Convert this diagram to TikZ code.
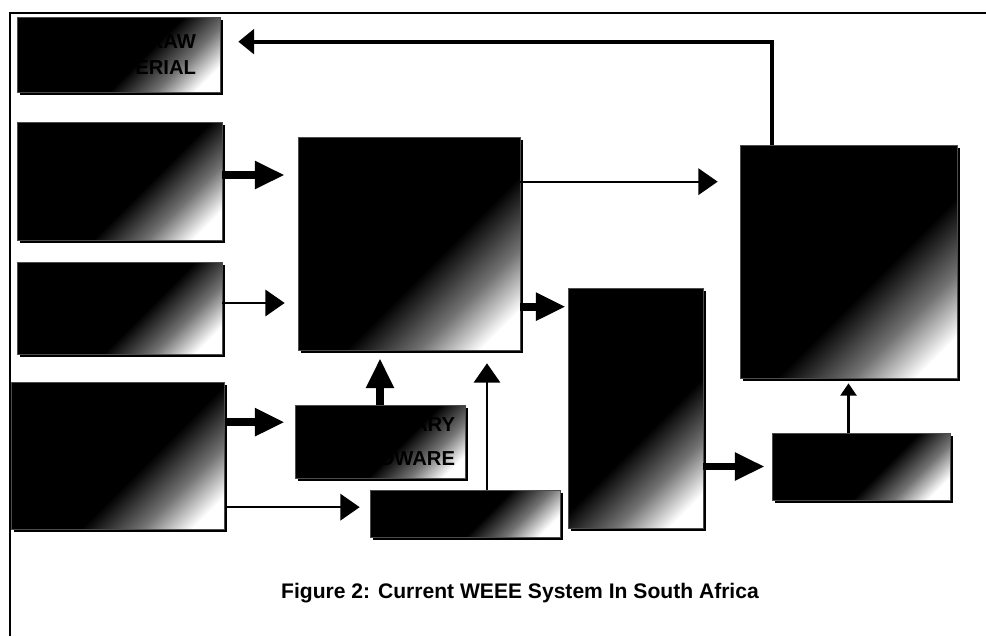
\documentclass[tikz,border=0pt]{standalone}
\usepackage{fontspec}
\setmainfont{Liberation Sans}
\usetikzlibrary{arrows.meta}
\usetikzlibrary{calc}
\usetikzlibrary{shadows}
\pgfdeclarehorizontalshading{boxfade}{100bp}{color(0bp)=(black); color(57bp)=(black); color(69bp)=(black!55); color(79bp)=(white); color(100bp)=(white)}

\begin{document}
\begin{tikzpicture}[x=0.02cm, y=-0.02cm,
  wbox/.style={rectangle, inner sep=0pt, draw=black!70, line width=.4pt, shade, shading=boxfade, shading angle=-45, general shadow={fill=black, shadow xshift=1.5pt, shadow yshift=-1.5pt}},
  thickarrow/.style={line width=4.5pt, -{Triangle[length=17pt,width=15pt]}},
  thinarrow/.style={line width=1.3pt, -{Triangle[length=11pt,width=15pt]}},
  toparrow/.style={line width=2.2pt, -{Triangle[length=9pt,width=14pt]}},
  midarrow/.style={line width=1.8pt, -{Triangle[length=7pt,width=9pt]}}]
\useasboundingbox (0,0) rectangle (986,636);
\draw[line width=.8pt] (10,636) -- (10,13) -- (986,13);

\node[wbox, minimum width=4.06cm, minimum height=1.5cm, text width=3.1cm, align=right, font=\bfseries\fontsize{11.5}{15}\selectfont] (b1) at (118.5,54.5) {RAW\\MATERIAL};
\node[wbox, minimum width=4.1cm, minimum height=2.36cm] (b2) at (119.5,181) {};
\node[wbox, minimum width=4.1cm, minimum height=1.84cm] (b3) at (119.5,308) {};
\node[wbox, minimum width=4.26cm, minimum height=2.94cm] (b4) at (118,456) {};
\node[wbox, minimum width=3.4cm, minimum height=1.46cm, text width=3.0cm, align=right, font=\bfseries\fontsize{11.5}{19}\selectfont] (b5) at (380,441.5) {SECONDARY\\HARDWARE};
\node[wbox, minimum width=3.8cm, minimum height=0.94cm] (b6) at (465,513.5) {};
\node[wbox, minimum width=4.44cm, minimum height=4.26cm] (b7) at (409,243.5) {};
\node[wbox, minimum width=2.7cm, minimum height=4.8cm] (b8) at (635.5,408) {};
\node[wbox, minimum width=4.34cm, minimum height=4.66cm] (b9) at (848.5,261.5) {};
\node[wbox, minimum width=3.56cm, minimum height=1.34cm] (b10) at (861,466.5) {};

\node[font=\bfseries\fontsize{12}{14}\selectfont] (cap) at (520,593) {Figure 2: Current WEEE System In South Africa};

\coordinate (b1in) at ($(b1.north east)+(0,25)$);
\coordinate (b9up) at ($(b9.north west)+(32,0)$);
\coordinate (b2out) at ($(b2.east)+(0,-6)$);
\coordinate (b3out) at ($(b3.east)+(0,-5)$);
\coordinate (b4top) at ($(b4.north east)+(0,40)$);
\coordinate (b4bot) at ($(b4.north east)+(0,125)$);
\coordinate (b6up) at ($(b6.north)+(22,0)$);
\coordinate (b7top) at ($(b7.north east)+(0,45)$);
\coordinate (b7bot) at ($(b7.north east)+(0,170)$);

\draw[toparrow, shorten >=0.36cm] (b9up) |- (b1in);
\draw[thickarrow, shorten >=0.26cm] (b2out) -- (b2out -| b7.west);
\draw[thinarrow, shorten >=0.26cm] (b3out) -- (b3out -| b7.west);
\draw[thickarrow, shorten >=0.2cm] (b4top) -- (b4top -| b5.west);
\draw[thinarrow, shorten >=0.2cm] (b4bot) -- (b4bot -| b6.west);
\draw[thickarrow, shorten >=0.16cm] (b5.north) -- (b5.north |- b7.south);
\draw[thinarrow, shorten >=0.26cm] (b6up) -- (b6up |- b7.south);
\draw[thinarrow, shorten >=0.44cm] (b7top) -- (b7top -| b9.west);
\draw[thickarrow, shorten >=0.04cm] (b7bot) -- (b7bot -| b8.west);
\draw[thickarrow, shorten >=0.14cm] (b10.west -| b8.east) -- (b10.west);
\draw[midarrow, shorten >=0.1cm] (b9.south |- b10.north) -- (b9.south);
\end{tikzpicture}
\end{document}
